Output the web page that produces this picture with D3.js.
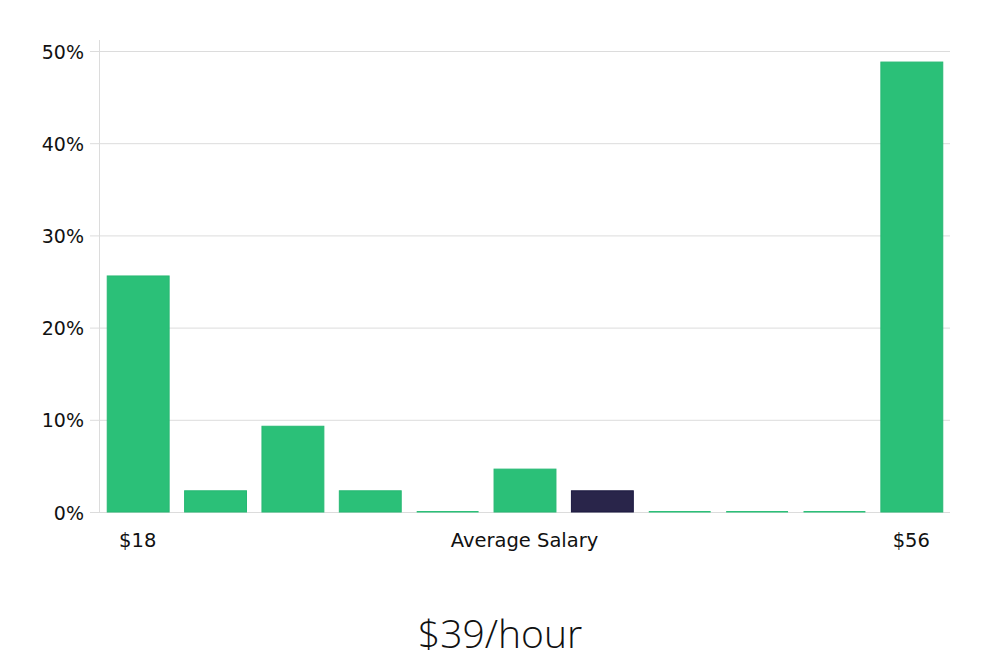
<!DOCTYPE html>
<html>
<head>
<meta charset="utf-8">
<script src="https://cdn.jsdelivr.net/npm/d3@7"></script>
<style>
  html, body { margin: 0; padding: 0; background: #fff; }
  svg { display: block; }
</style>
</head>
<body>
<svg id="chart" width="1000" height="660"></svg>
<script>
const bins = ["b1","b2","b3","b4","b5","b6","b7","b8","b9","b10","b11"];
const shares = [25.6, 2.3, 9.3, 2.3, 0, 4.65, 2.3, 0, 0, 0, 48.8];
const highlightIndex = 6;
const yTicks = [0, 10, 20, 30, 40, 50];
const xLabels = [
  { bin: "b1", text: "$18" },
  { bin: "b6", text: "Average Salary" },
  { bin: "b11", text: "$56" }
];
const title = "$39/hour";

(function () {
const svg = d3.select("#chart");
const mLeft = 99, mRight = 950, mTop = 40, mBottom = 512;

const x = d3.scaleBand().domain(bins).range([mLeft, mRight]).paddingInner(0.2).paddingOuter(0.1);
const y = d3.scaleLinear().domain([0, 50]).range([mBottom, 51]);

// gridlines
svg.append("g")
  .selectAll("line").data(yTicks).join("line")
  .attr("x1", mLeft - 9).attr("x2", mRight)
  .attr("y1", d => y(d) + 0.5).attr("y2", d => y(d) + 0.5)
  .attr("stroke", "#dcdcdc").attr("stroke-width", 1);

// y axis line
svg.append("line")
  .attr("x1", mLeft + 0.5).attr("x2", mLeft + 0.5)
  .attr("y1", mTop).attr("y2", mBottom)
  .attr("stroke", "#dcdcdc");

// y tick labels
svg.append("g")
  .selectAll("text").data(yTicks).join("text")
  .attr("x", 84).attr("y", d => y(d) + 1)
  .attr("dy", "0.35em")
  .attr("text-anchor", "end")
  .attr("font-family", "DejaVu Sans, sans-serif")
  .attr("font-size", 19)
  .attr("fill", "#111")
  .text(d => d + "%");

// bars
svg.append("g")
  .selectAll("rect").data(shares).join("rect")
  .attr("x", (d, i) => x(bins[i]) + 0.5)
  .attr("width", x.bandwidth())
  .attr("y", d => d > 0 ? y(d) : mBottom - 1)
  .attr("height", d => d > 0 ? mBottom - y(d) : 1.5)
  .attr("fill", (d, i) => i === highlightIndex ? "#29254a" : "#2bc078")
  .attr("stroke", (d, i) => d === 0 ? "none" : (i === highlightIndex ? "#1b1840" : "#27b873"))
  .attr("stroke-width", 1);

// x labels
svg.append("g")
  .selectAll("text").data(xLabels).join("text")
  .attr("x", d => x(d.bin) + x.bandwidth() / 2)
  .attr("y", 547)
  .attr("text-anchor", "middle")
  .attr("font-family", "DejaVu Sans, sans-serif")
  .attr("font-size", 19.5)
  .attr("fill", "#111")
  .text(d => d.text);

// title
svg.append("text")
  .attr("x", 500).attr("y", 648)
  .attr("text-anchor", "middle")
  .attr("font-family", "Open Sans, sans-serif")
  .attr("font-weight", 300)
  .attr("font-size", 39)
  .attr("fill", "#111")
  .text(title);
})();
</script>
</body>
</html>
